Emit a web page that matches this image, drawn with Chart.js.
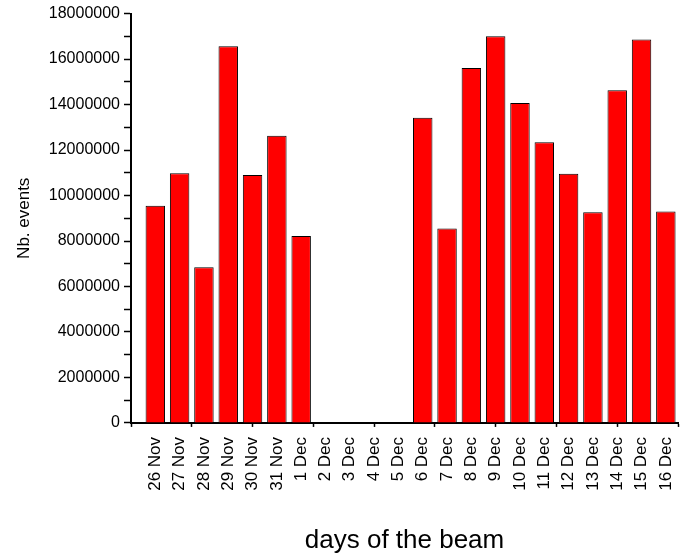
<!DOCTYPE html>
<html>
<head>
<meta charset="utf-8">
<script src="https://cdn.jsdelivr.net/npm/chart.js@4/dist/chart.umd.min.js"></script>
<style>
  html, body { margin: 0; padding: 0; background: #fff; }
  #wrap { width: 681px; height: 556px; }
</style>
</head>
<body>
<div id="wrap"><canvas id="beamChart"></canvas></div>
<script>
// jours du faisceau
const days = ["26 Nov", "27 Nov", "28 Nov", "29 Nov", "30 Nov", "31 Nov", "1 Dec",
  "2 Dec", "3 Dec", "4 Dec", "5 Dec", "6 Dec", "7 Dec", "8 Dec", "9 Dec", "10 Dec",
  "11 Dec", "12 Dec", "13 Dec", "14 Dec", "15 Dec", "16 Dec"];
const nbEvents = [9550000, 10980000, 6850000, 16560000, 10900000, 12630000, 8220000,
  0, 0, 0, 0, 13420000, 8550000, 15610000, 17000000, 14070000,
  12340000, 10960000, 9260000, 14630000, 16860000, 9300000];
const yMax = 18000000;
const yStep = 1000000;
// axe x numérique (index des jours), graduations tous les 2.5
const xMin = -1;
const xMax = 21.5;
const xMajor = 2.5;

document.addEventListener("DOMContentLoaded", function () {
  Chart.defaults.font.family = "'Liberation Sans', Arial, sans-serif";
  Chart.defaults.color = "#000";

  const points = nbEvents.map((v, i) => ({ x: i, y: v }));

  const ctx = document.getElementById("beamChart").getContext("2d");
  new Chart(ctx, {
    type: "bar",
    data: {
      datasets: [{
        data: points,
        backgroundColor: "#ff0000",
        borderColor: "#000",
        borderWidth: 1,
        barPercentage: 0.8,
        // les ticks sont tous les 0.5, donc la largeur de base est une demi-journée
        categoryPercentage: 2
      }]
    },
    options: {
      responsive: true,
      maintainAspectRatio: false,
      animation: false,
      layout: { padding: { left: 10, right: 3, top: 12, bottom: 0 } },
      plugins: { legend: { display: false }, tooltip: { enabled: false } },
      scales: {
        x: {
          type: "linear",
          min: xMin,
          max: xMax,
          offset: false,
          afterFit: function (scale) { scale.paddingLeft = 0; scale.paddingRight = 0; },
          afterBuildTicks: function (scale) {
            const t = [];
            for (let v = xMin; v <= xMax + 1e-9; v += 0.5) t.push({ value: v });
            scale.ticks = t;
          },
          grid: {
            offset: false,
            drawOnChartArea: false,
            tickLength: 4,
            tickWidth: 1.5,
            tickColor: function (c) {
              const v = c.tick ? c.tick.value : 0;
              const r = ((v - xMin) / xMajor);
              return Math.abs(r - Math.round(r)) < 1e-6 ? "#000" : "rgba(0,0,0,0)";
            }
          },
          border: { color: "#000", width: 2 },
          ticks: {
            font: { size: 17 },
            minRotation: 90,
            maxRotation: 90,
            autoSkip: false,
            padding: 10,
            callback: function (v) {
              return Number.isInteger(v) && v >= 0 && v < days.length ? days[v] : "";
            }
          },
          title: {
            display: true,
            text: "days of the beam",
            font: { size: 26 },
            padding: { top: 24, bottom: 0 }
          }
        },
        y: {
          min: 0,
          max: yMax,
          afterFit: function (scale) { scale.width = 121; },
          grid: { drawOnChartArea: false, tickLength: 7, tickColor: "#000", tickWidth: 1.5 },
          border: { color: "#000", width: 2 },
          ticks: {
            stepSize: yStep,
            autoSkip: false,
            padding: 4,
            font: { size: 16 },
            callback: function (v) { return v % 2000000 === 0 ? String(v) : ""; }
          },
          title: {
            display: true,
            text: "Nb. events",
            font: { size: 17 },
            padding: 4
          }
        }
      }
    }
  });
});
</script>
</body>
</html>
